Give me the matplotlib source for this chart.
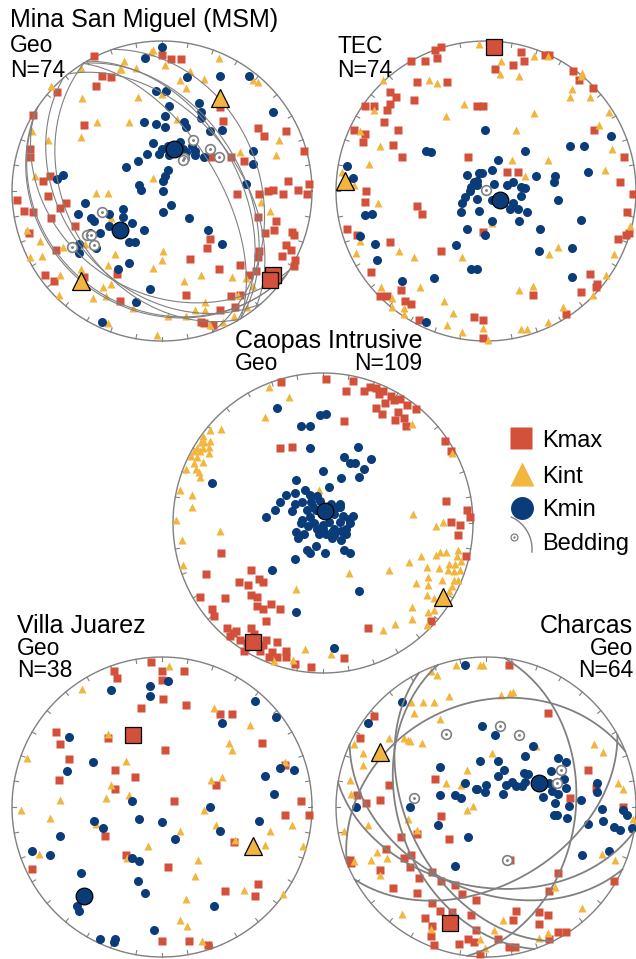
import numpy as np
import matplotlib.pyplot as plt

plt.rcParams['font.family'] = ['Liberation Sans', 'DejaVu Sans']

KMAX_C = '#d3513a'
KINT_C = '#f2b53d'
KMIN_C = '#0b3c7a'
GRAY = '#808080'

# Projected positions on the lower-hemisphere equal-area net
# (x = east, y = north, net radius = 1).

# --- Mina San Miguel (MSM) ---
msm_kmax = [(-0.45, 0.90), (0.00, 0.91), (0.06, 0.88), (0.13, 0.88), (-0.40, 0.77), (-0.34, 0.76),
            (-0.44, 0.70), (-0.70, 0.66), (-0.86, 0.51), (-0.52, 0.44), (0.39, 0.56), (0.41, 0.47),
            (0.64, 0.42), (0.68, 0.37), (0.83, 0.40), (0.95, 0.27), (-0.88, 0.28), (-0.88, 0.23),
            (0.46, 0.23), (0.55, 0.20), (0.33, 0.23), (-0.79, 0.07), (-0.75, 0.10), (0.84, 0.07),
            (0.98, 0.05), (-0.97, -0.06), (-0.76, -0.03), (0.50, -0.02), (0.65, -0.02), (0.71, 0.00),
            (0.74, 0.01), (0.81, -0.02), (0.91, 0.01), (0.97, -0.02), (-0.64, -0.08), (-0.68, -0.11),
            (-0.92, -0.13), (-0.86, -0.14), (-0.74, -0.18), (0.64, -0.17), (0.76, -0.20), (-0.58, -0.23),
            (-0.89, -0.28), (0.69, -0.28), (0.75, -0.26), (0.87, -0.27), (0.88, -0.29), (0.32, -0.32),
            (0.30, -0.38), (-0.71, -0.39), (0.65, -0.40), (0.83, -0.36), (0.86, -0.39), (0.80, -0.43),
            (0.89, -0.46), (0.19, -0.45), (0.64, -0.44), (0.52, -0.49), (0.38, -0.52), (0.63, -0.53),
            (0.88, -0.50), (0.58, -0.56), (-0.78, -0.56), (-0.30, -0.55), (-0.72, -0.60), (-0.52, -0.57),
            (0.16, -0.69), (0.46, -0.70), (0.52, -0.69), (-0.28, -0.73), (0.49, -0.77), (0.39, -0.79),
            (0.26, -0.87), (0.28, -0.88), (0.34, -0.89)]
msm_kint = [(-0.06, 0.94), (-0.07, 0.93), (-0.25, 0.87), (0.38, 0.89), (-0.54, 0.82), (-0.28, 0.81),
            (-0.27, 0.81), (-0.17, 0.82), (0.02, 0.84), (0.19, 0.80), (0.28, 0.75), (0.12, 0.74),
            (0.61, 0.74), (0.64, 0.73), (-0.74, 0.70), (0.03, 0.69), (0.16, 0.69), (0.00, 0.65),
            (-0.16, 0.63), (-0.53, 0.62), (-0.43, 0.46), (-0.22, 0.46), (0.10, 0.48), (-0.87, 0.40),
            (-0.54, 0.36), (-0.76, 0.34), (0.78, 0.34), (0.52, 0.26), (0.76, 0.24), (-0.85, 0.10),
            (-0.06, 0.09), (-0.44, -0.01), (-0.36, -0.01), (0.66, -0.07), (0.72, -0.13), (-0.90, -0.26),
            (-0.81, -0.33), (-0.51, -0.35), (-0.34, -0.18), (-0.66, -0.37), (-0.80, -0.43), (-0.88, -0.44),
            (-0.31, -0.42), (0.01, -0.40), (0.00, -0.46), (-0.36, -0.49), (-0.06, -0.51), (-0.54, -0.52),
            (-0.68, -0.56), (0.26, -0.56), (0.47, -0.57), (0.15, -0.60), (0.56, -0.58), (-0.34, -0.62),
            (-0.39, -0.64), (-0.37, -0.70), (-0.69, -0.69), (-0.46, -0.71), (0.51, -0.69), (0.29, -0.74),
            (-0.19, -0.78), (0.04, -0.83), (0.16, -0.83), (0.22, -0.79), (0.29, -0.79), (0.41, -0.87),
            (0.48, -0.83), (-0.36, -0.88), (0.32, -0.89), (0.57, -0.77), (0.61, -0.63), (-0.03, -0.96)]
msm_kmin = [(0.00, 0.96), (-0.11, 0.89), (0.17, 0.76), (0.39, 0.77), (0.58, 0.77), (-0.04, 0.67),
            (0.03, 0.67), (0.25, 0.59), (0.05, 0.57), (0.26, 0.53), (0.74, 0.53), (0.02, 0.50),
            (0.26, 0.49), (-0.12, 0.46), (-0.04, 0.45), (0.02, 0.43), (0.15, 0.46), (0.16, 0.43),
            (0.32, 0.40), (0.40, 0.41), (0.12, 0.33), (-0.06, 0.32), (0.00, 0.28), (0.04, 0.30),
            (0.11, 0.30), (0.14, 0.28), (0.20, 0.30), (-0.10, 0.25), (-0.02, 0.25), (0.05, 0.24),
            (0.22, 0.24), (0.28, 0.23), (0.61, 0.27), (0.61, 0.18), (-0.16, 0.20), (-0.24, 0.16),
            (0.04, 0.14), (0.01, 0.07), (0.02, 0.10), (-0.66, 0.11), (-0.70, 0.08), (0.56, 0.05),
            (-0.15, 0.04), (-0.14, 0.01), (0.01, 0.00), (0.06, -0.09), (0.01, -0.14), (0.18, -0.18),
            (-0.51, -0.08), (-0.26, -0.12), (-0.56, -0.15), (-0.47, -0.18), (-0.45, -0.20), (-0.26, -0.17),
            (-0.35, -0.23), (-0.20, -0.21), (-0.12, -0.26), (-0.41, -0.28), (0.31, -0.26), (-0.22, -0.34),
            (-0.18, -0.34), (0.40, -0.35), (-0.55, -0.35), (-0.44, -0.38), (-0.55, -0.41), (-0.22, -0.48),
            (-0.29, -0.52), (-0.08, -0.65), (-0.17, -0.74), (-0.40, -0.87), (0.09, 0.26), (0.16, 0.26),
            (0.22, 0.27), (-0.48, -0.28), (-0.35, -0.15)]
msm_bedding = [(0.21, 0.34), (0.32, 0.28), (0.38, 0.23), (0.15, 0.22), (0.14, 0.21),
               (-0.40, -0.14), (-0.50, -0.29), (-0.47, -0.29), (-0.45, -0.36), (-0.60, -0.37)]
msm_mean_kmax = [(0.74, -0.56), (0.72, -0.59)]
msm_mean_kint = [(0.39, 0.62), (-0.54, -0.60)]
msm_mean_kmin = [(0.08, 0.28), (-0.28, -0.26)]

# --- TEC ---
tec_kmax = [(-0.34, 0.94), (-0.30, 0.96), (-0.33, 0.89), (-0.50, 0.87), (-0.41, 0.87), (0.23, 0.93),
            (0.18, 0.84), (0.25, 0.87), (0.06, 0.81), (0.39, 0.91), (0.42, 0.91), (0.58, 0.80),
            (0.62, 0.74), (0.71, 0.69), (-0.46, 0.73), (-0.26, 0.73), (-0.64, 0.66), (-0.60, 0.63),
            (-0.48, 0.61), (-0.81, 0.57), (-0.75, 0.57), (-0.64, 0.58), (-0.66, 0.54), (-0.06, 0.57),
            (-0.02, 0.57), (-0.68, 0.46), (-0.88, 0.41), (-0.81, 0.38), (-0.59, 0.41), (-0.82, 0.33),
            (-0.62, 0.31), (0.72, 0.41), (-0.56, 0.23), (-0.12, 0.23), (0.92, 0.23), (0.14, 0.13),
            (0.21, 0.13), (0.89, 0.06), (0.98, -0.02), (-0.80, 0.00), (-0.81, -0.07), (-0.46, -0.10),
            (-0.43, -0.15), (0.94, -0.14), (-0.93, -0.25), (-0.86, -0.29), (-0.02, -0.27), (-0.64, -0.34),
            (0.88, -0.32), (0.93, -0.29), (0.95, -0.28), (-0.30, -0.40), (-0.77, -0.54), (0.69, -0.55),
            (0.74, -0.62), (0.73, -0.64), (-0.57, -0.66), (0.63, -0.67), (0.31, -0.69), (-0.71, -0.70),
            (-0.66, -0.70), (-0.54, -0.73), (-0.50, -0.75), (0.53, -0.82), (-0.08, -0.84), (-0.02, -0.86),
            (-0.45, -0.86), (-0.02, -0.98)]
tec_kint = [(-0.05, 0.98), (0.10, 0.87), (0.09, 0.78), (0.22, 0.77), (0.32, 0.90), (0.41, 0.90),
            (0.64, 0.79), (0.63, 0.77), (0.57, 0.68), (0.56, 0.63), (0.69, 0.63), (-0.69, 0.74),
            (-0.38, 0.74), (-0.33, 0.72), (-0.75, 0.54), (-0.15, 0.58), (-0.27, 0.50), (0.32, 0.52),
            (0.82, 0.53), (0.20, 0.41), (0.75, 0.44), (-0.84, 0.40), (-0.71, 0.30), (0.84, 0.28),
            (-0.78, 0.18), (0.17, 0.21), (0.41, 0.21), (0.79, 0.14), (0.26, 0.10), (-0.96, 0.13),
            (-0.88, 0.04), (-0.72, -0.08), (0.04, -0.21), (-0.84, -0.33), (-0.87, -0.41), (-0.58, -0.40),
            (-0.48, -0.44), (-0.16, -0.44), (0.48, -0.37), (0.42, -0.42), (0.85, -0.42), (0.96, -0.23),
            (0.80, -0.56), (-0.70, -0.64), (-0.44, -0.64), (0.22, -0.66), (0.31, -0.63), (0.71, -0.69),
            (-0.63, -0.71), (-0.63, -0.77), (-0.55, -0.82), (-0.55, -0.78), (-0.28, -0.73), (-0.22, -0.81),
            (0.51, -0.77), (0.41, -0.87), (-0.26, -0.89), (-0.16, -0.94), (-0.02, -0.91), (0.01, -0.99),
            (0.23, -0.92), (0.27, -0.92)]
tec_kmin = [(-0.01, 0.41), (-0.40, 0.27), (-0.37, 0.26), (0.26, 0.27), (0.56, 0.30), (0.65, 0.30),
            (0.83, 0.37), (0.08, 0.21), (-0.93, 0.17), (-0.89, 0.09), (-0.13, 0.11), (-0.05, 0.12),
            (-0.03, 0.12), (0.04, 0.14), (0.33, 0.10), (0.46, 0.10), (0.45, 0.06), (0.68, 0.13),
            (-0.08, 0.06), (-0.06, 0.04), (0.05, 0.05), (0.14, 0.04), (0.18, 0.06), (0.23, 0.03),
            (0.26, 0.02), (-0.11, 0.00), (-0.14, -0.04), (-0.06, -0.05), (0.04, -0.06), (0.18, -0.08),
            (0.23, -0.03), (0.16, -0.12), (0.21, -0.12), (0.27, -0.14), (0.48, -0.06), (-0.16, -0.08),
            (-0.17, -0.14), (-0.05, -0.13), (-0.81, -0.16), (-0.76, -0.15), (0.04, -0.20), (0.22, -0.20),
            (0.63, -0.19), (-0.13, -0.25), (0.36, -0.25), (-0.01, -0.29), (-0.84, -0.30), (-0.74, -0.35),
            (-0.20, -0.36), (0.35, -0.40), (0.57, -0.38), (-0.73, -0.46), (-0.10, -0.52), (-0.06, -0.52),
            (-0.35, -0.58), (0.57, -0.57), (-0.56, -0.60), (-0.40, -0.87), (-0.10, 0.03), (-0.06, 0.07)]
tec_bedding = [(0.00, 0.01)]
tec_mean_kmax = [(0.05, 0.96)]
tec_mean_kint = [(-0.94, 0.07)]
tec_mean_kmin = [(0.09, -0.06)]

# --- Caopas Intrusive ---
cao_kmax = [(-0.28, 0.94), (0.02, 0.96), (0.20, 0.95), (0.15, 0.88), (0.27, 0.88), (0.31, 0.91),
            (0.35, 0.90), (0.37, 0.86), (0.40, 0.88), (0.45, 0.85), (0.51, 0.83), (0.56, 0.79),
            (0.62, 0.76), (0.35, 0.77), (0.41, 0.80), (0.39, 0.73), (0.50, 0.74), (0.48, 0.69),
            (0.54, 0.70), (0.55, 0.65), (0.14, 0.68), (0.47, 0.82), (0.81, 0.55), (0.85, 0.48),
            (-0.29, 0.50), (-0.21, 0.51), (0.82, 0.15), (0.96, 0.09), (0.98, 0.04), (0.85, 0.01),
            (0.91, -0.01), (0.90, -0.08), (0.95, -0.22), (-0.68, -0.20), (-0.78, -0.34), (-0.48, -0.31),
            (-0.56, -0.39), (-0.50, -0.41), (-0.43, -0.37), (-0.40, -0.39), (-0.82, -0.49), (-0.65, -0.50),
            (-0.48, -0.48), (-0.44, -0.49), (-0.44, -0.55), (-0.35, -0.54), (-0.29, -0.57), (-0.74, -0.57),
            (-0.73, -0.62), (-0.38, -0.65), (-0.40, -0.57), (-0.64, -0.70), (-0.58, -0.72), (-0.62, -0.75),
            (-0.48, -0.70), (-0.51, -0.80), (-0.44, -0.80), (-0.40, -0.81), (-0.38, -0.78), (-0.42, -0.85),
            (-0.34, -0.86), (-0.31, -0.79), (-0.25, -0.85), (-0.25, -0.89), (-0.31, -0.89), (-0.36, -0.89),
            (-0.19, -0.94), (-0.08, -0.96), (0.14, -0.90), (0.30, -0.70), (0.72, -0.65), (-0.55, -0.78),
            (-0.53, -0.85), (-0.60, -0.73), (-0.46, -0.74)]
cao_kint = [(-0.36, 0.91), (-0.23, 0.84), (-0.39, 0.71), (-0.75, 0.62), (-0.68, 0.63), (-0.80, 0.58),
            (-0.81, 0.54), (-0.79, 0.54), (-0.75, 0.55), (-0.84, 0.50), (-0.80, 0.50), (-0.76, 0.51),
            (-0.86, 0.48), (-0.82, 0.48), (-0.88, 0.45), (-0.76, 0.47), (-0.84, 0.44), (-0.86, 0.40),
            (-0.80, 0.41), (-0.91, 0.36), (-0.85, 0.36), (-0.83, 0.34), (-0.82, 0.31), (-0.95, 0.22),
            (-0.87, 0.19), (-0.87, 0.11), (-0.98, 0.02), (-0.69, -0.05), (-0.94, -0.11), (-0.93, -0.28),
            (-0.03, 0.22), (0.59, 0.66), (0.86, 0.47), (0.60, 0.06), (0.75, -0.02), (0.80, 0.01),
            (0.17, -0.33), (0.44, -0.31), (0.57, -0.26), (0.65, -0.22), (0.75, -0.21), (0.78, -0.19),
            (0.82, -0.19), (0.89, -0.22), (0.92, -0.25), (0.88, -0.27), (0.69, -0.29), (0.77, -0.30),
            (0.83, -0.31), (0.87, -0.32), (0.91, -0.31), (0.62, -0.40), (0.70, -0.41), (0.79, -0.38),
            (0.87, -0.38), (0.90, -0.38), (0.86, -0.42), (0.84, -0.45), (0.69, -0.48), (0.74, -0.50),
            (0.59, -0.56), (0.70, -0.59), (0.74, -0.58), (0.59, -0.64), (0.69, -0.68), (0.48, -0.67),
            (0.40, -0.71), (-0.18, -0.44), (-0.12, -0.84), (0.05, -0.87), (-0.20, -0.91), (-0.33, -0.92),
            (0.84, -0.27), (0.90, -0.18), (0.70, -0.36)]
cao_kmin = [(-0.31, 0.77), (-0.02, 0.72), (0.02, 0.73), (-0.15, 0.65), (-0.09, 0.65), (-0.09, 0.50),
            (0.23, 0.51), (0.14, 0.44), (0.18, 0.40), (0.21, 0.40), (0.32, 0.43), (0.27, 0.36),
            (0.24, 0.31), (0.12, 0.30), (0.00, 0.35), (-0.74, 0.27), (-0.18, 0.29), (0.04, 0.24),
            (-0.25, 0.19), (-0.19, 0.20), (-0.12, 0.22), (-0.09, 0.19), (-0.04, 0.18), (-0.29, 0.14),
            (-0.19, 0.13), (-0.14, 0.14), (-0.08, 0.14), (-0.02, 0.15), (0.05, 0.13), (0.11, 0.13),
            (-0.32, 0.09), (-0.21, 0.08), (-0.11, 0.09), (-0.38, 0.04), (-0.09, 0.04), (0.07, 0.06),
            (0.13, 0.05), (0.17, 0.03), (0.20, 0.05), (-0.14, 0.02), (-0.06, 0.00), (0.04, 0.01),
            (0.11, 0.01), (0.18, 0.00), (-0.10, -0.02), (-0.04, -0.04), (0.07, -0.04), (0.12, -0.05),
            (-0.18, -0.06), (-0.13, -0.07), (-0.03, -0.07), (0.02, -0.07), (0.07, -0.08), (0.15, -0.07),
            (-0.17, -0.10), (0.06, -0.10), (0.12, -0.11), (-0.05, -0.15), (-0.11, -0.18), (-0.09, -0.20),
            (0.01, -0.20), (0.14, -0.18), (0.18, -0.20), (-0.19, -0.24), (-0.34, -0.31), (0.24, -0.45),
            (-0.18, -0.59), (0.07, -0.83), (-0.07, 0.11), (-0.05, 0.09), (0.09, 0.11), (0.11, 0.11),
            (-0.15, 0.00), (0.00, -0.01), (0.00, -0.04), (0.06, -0.06), (0.15, -0.04)]
cao_mean_kmax = [(-0.47, -0.79)]
cao_mean_kint = [(0.80, -0.49)]
cao_mean_kmin = [(0.01, 0.08)]

# --- Villa Juarez ---
vj_kmax = [(-0.32, 0.91), (-0.30, 0.86), (-0.07, 0.97), (0.00, 0.91), (0.00, 0.85), (0.15, 0.91),
           (0.01, 0.72), (-0.14, 0.66), (0.16, 0.68), (0.39, 0.62), (0.47, 0.62), (-0.71, 0.50),
           (-0.68, 0.42), (-0.36, 0.46), (0.02, 0.38), (0.67, 0.43), (-0.62, 0.32), (-0.69, 0.18),
           (-0.31, 0.25), (-0.18, 0.20), (-0.31, 0.12), (0.36, 0.15), (0.82, 0.28), (0.08, 0.04),
           (0.93, 0.04), (0.82, -0.05), (0.98, -0.05), (-0.38, -0.19), (0.48, -0.23), (-0.24, -0.32),
           (-0.87, -0.41), (0.04, -0.40), (0.64, -0.51), (0.42, -0.56), (0.62, -0.59), (0.00, -0.89),
           (0.18, -0.89), (0.31, -0.92)]
vj_kint = [(0.05, 0.94), (-0.53, 0.79), (0.35, 0.66), (0.59, 0.55), (-0.36, 0.49), (0.45, 0.43),
           (0.47, 0.38), (-0.90, 0.33), (-0.24, 0.31), (0.82, 0.30), (-0.34, 0.15), (0.33, 0.18),
           (0.40, 0.20), (-0.22, 0.08), (-0.68, 0.05), (-0.37, 0.06), (-0.94, -0.02), (0.28, -0.02),
           (-0.75, -0.07), (-0.44, -0.11), (0.36, -0.12), (0.87, -0.12), (0.12, -0.16), (0.72, -0.16),
           (0.49, -0.22), (0.69, -0.25), (0.94, -0.26), (-0.09, -0.26), (-0.82, -0.31), (-0.23, -0.34),
           (0.24, -0.35), (0.22, -0.46), (0.55, -0.55), (0.81, -0.58), (0.16, -0.61), (0.12, -0.75),
           (0.17, -0.79), (0.27, -0.89)]
vj_kmin = [(-0.08, 0.81), (0.04, 0.84), (-0.34, 0.78), (-0.08, 0.74), (0.62, 0.71), (0.76, 0.60),
           (0.40, 0.56), (-0.62, 0.47), (-0.46, 0.30), (-0.63, 0.24), (0.69, 0.21), (0.79, 0.26),
           (0.88, 0.25), (0.75, 0.09), (-0.20, 0.04), (0.32, 0.00), (-0.45, -0.09), (-0.39, -0.14),
           (-0.15, -0.08), (0.00, -0.10), (0.39, -0.16), (0.65, -0.09), (0.09, -0.21), (-0.68, -0.19),
           (-0.87, -0.29), (-0.75, -0.32), (-0.20, -0.34), (-0.15, -0.36), (-0.54, -0.44), (-0.16, -0.49),
           (-0.11, -0.57), (-0.57, -0.66), (-0.55, -0.69), (0.35, -0.66), (-0.05, -0.82), (-0.41, -0.88),
           (-0.32, -0.90), (-0.31, -0.88)]
vj_mean_kmax = [(-0.19, 0.48)]
vj_mean_kint = [(0.61, -0.26)]
vj_mean_kmin = [(-0.52, -0.59)]

# --- Charcas ---
cha_kmax = [(0.15, 0.95), (0.41, 0.63), (-0.75, 0.61), (-0.84, 0.46), (0.68, 0.25), (-0.34, 0.19),
            (-0.65, 0.15), (-0.86, 0.08), (-0.80, 0.03), (-0.71, 0.05), (0.73, 0.13), (0.56, 0.06),
            (0.91, 0.00), (-0.30, -0.06), (-0.46, -0.18), (-0.57, -0.20), (-0.25, -0.21), (-0.67, -0.28),
            (-0.55, -0.34), (-0.50, -0.32), (-0.91, -0.35), (-0.90, -0.37), (0.16, -0.35), (-0.71, -0.42),
            (-0.51, -0.40), (-0.36, -0.43), (0.48, -0.44), (0.85, -0.49), (-0.45, -0.47), (-0.30, -0.49),
            (-0.21, -0.52), (-0.62, -0.54), (-0.46, -0.57), (-0.16, -0.58), (0.42, -0.56), (-0.36, -0.64),
            (-0.07, -0.62), (-0.31, -0.69), (-0.23, -0.70), (0.20, -0.69), (-0.41, -0.74), (-0.10, -0.72),
            (0.18, -0.75), (0.35, -0.70), (0.41, -0.72), (-0.36, -0.79), (0.35, -0.78), (-0.07, -0.82),
            (-0.37, -0.86), (0.08, -0.88), (-0.18, -0.91), (-0.12, -0.88), (-0.08, -0.90), (-0.35, -0.92),
            (0.15, -0.93), (0.19, -0.93), (-0.04, -0.98), (0.42, -0.88), (0.48, -0.83), (0.53, -0.83)]
cha_kint = [(-0.37, 0.91), (-0.33, 0.88), (-0.20, 0.95), (-0.04, 0.95), (-0.02, 0.95), (-0.50, 0.70),
            (-0.42, 0.70), (-0.35, 0.70), (-0.25, 0.74), (-0.48, 0.63), (-0.31, 0.59), (0.10, 0.75),
            (0.16, 0.76), (0.18, 0.77), (-0.55, 0.46), (-0.52, 0.45), (-0.51, 0.44), (-0.43, 0.43),
            (-0.65, 0.46), (-0.88, 0.42), (-0.82, 0.36), (-0.82, 0.28), (0.04, 0.36), (-0.13, 0.25),
            (-0.27, 0.16), (-0.17, 0.15), (0.33, 0.41), (0.72, 0.42), (0.78, 0.37), (-0.91, 0.18),
            (-0.90, 0.09), (-0.09, 0.01), (-0.13, -0.02), (0.91, 0.12), (0.88, 0.16), (0.98, -0.08),
            (-0.79, -0.12), (-0.52, -0.08), (-0.46, -0.15), (-0.95, -0.16), (-0.73, -0.30), (-0.77, -0.35),
            (-0.66, -0.34), (-0.88, -0.36), (-0.71, -0.45), (0.77, -0.31), (0.86, -0.35), (0.46, -0.53),
            (0.64, -0.67), (-0.56, -0.71), (0.11, -0.75), (0.05, -0.82), (-0.04, -0.88), (-0.01, -0.94),
            (0.35, -0.87), (0.41, -0.84), (-0.37, -0.81)]
cha_kmin = [(-0.14, 0.95), (-0.56, 0.70), (-0.79, 0.56), (-0.03, 0.54), (0.06, 0.48), (0.31, 0.41),
            (0.26, 0.34), (0.48, 0.33), (0.53, 0.30), (-0.04, 0.31), (0.08, 0.31), (-0.31, 0.27),
            (0.12, 0.25), (0.08, 0.21), (0.25, 0.23), (0.28, 0.22), (0.43, 0.24), (-0.14, 0.16),
            (-0.07, 0.12), (0.00, 0.15), (0.13, 0.15), (0.17, 0.17), (0.20, 0.14), (0.24, 0.14),
            (0.26, 0.17), (0.52, 0.19), (0.53, 0.13), (-0.31, 0.08), (-0.21, 0.08), (-0.17, 0.06),
            (-0.01, 0.10), (0.11, 0.09), (0.38, 0.07), (0.44, 0.11), (0.48, 0.09), (0.46, 0.03),
            (0.55, 0.01), (0.63, 0.05), (0.74, 0.16), (0.74, 0.10), (-0.87, 0.00), (-0.51, 0.00),
            (0.45, -0.05), (0.47, -0.05), (0.54, -0.07), (0.77, -0.01), (0.78, -0.09), (0.68, -0.11),
            (0.91, -0.02), (0.94, -0.05), (0.85, -0.13), (0.89, -0.15), (0.97, -0.14), (-0.32, -0.12),
            (-0.12, -0.20), (0.64, -0.32), (0.82, -0.29), (-0.21, -0.39), (0.42, 0.16), (-0.06, 0.12)]
cha_bedding = [(0.09, 0.54), (0.22, 0.48), (-0.27, 0.49), (0.50, 0.25), (0.47, 0.16),
               (-0.48, 0.06), (0.14, -0.35)]
cha_mean_kmax = [(-0.24, -0.77)]
cha_mean_kint = [(-0.71, 0.37)]
cha_mean_kmin = [(0.35, 0.16)]

W, H = 636, 959
fig = plt.figure(figsize=(W / 100, H / 100), dpi=100)


def px(x, y):
    # figure pixel (from top-left) -> figure fraction
    return x / W, 1 - y / H


def net_axes(cx, cy, r=150, pad=1.1):
    s = r * pad
    ax = fig.add_axes([(cx - s) / W, 1 - (cy + s) / H, 2 * s / W, 2 * s / H])
    ax.set_xlim(-pad, pad)
    ax.set_ylim(-pad, pad)
    ax.axis('off')
    t = np.linspace(0, 2 * np.pi, 721)
    ax.plot(np.cos(t), np.sin(t), color=GRAY, lw=1.0, zorder=1)
    for a in np.radians(np.arange(0, 360, 10)):
        ax.plot([np.sin(a), 0.972 * np.sin(a)], [np.cos(a), 0.972 * np.cos(a)],
                color=GRAY, lw=0.8, zorder=1)
    return ax


def great_circle(pxy):
    # plane whose pole projects at pxy (equal-area, lower hemisphere)
    x, y = pxy
    rr = np.hypot(x, y)
    d = 1 - rr ** 2
    h = np.sqrt(max(0.0, 1 - d ** 2))
    pole = np.array([h * y / rr, h * x / rr, d]) if rr > 0 else np.array([0, 0, 1.0])
    s = np.cross(pole, [0, 0, 1.0])
    if np.linalg.norm(s) < 1e-9:
        s = np.array([1.0, 0, 0])
    s /= np.linalg.norm(s)
    w = np.cross(pole, s)
    if w[2] < 0:
        w = -w
    th = np.linspace(0, np.pi, 241)
    v = np.outer(np.cos(th), s) + np.outer(np.sin(th), w)
    rv = np.sqrt(np.clip(1 - v[:, 2], 0, None))
    hv = np.hypot(v[:, 0], v[:, 1])
    hv[hv == 0] = 1
    return rv * v[:, 1] / hv, rv * v[:, 0] / hv


def plot_net(ax, kmax, kint, kmin, means, bedding=(), gc_lw=0.8, draw_gc=True):
    for pts, mk, col, ms in [(kmax, 's', KMAX_C, 5.5), (kint, '^', KINT_C, 6.2),
                             (kmin, 'o', KMIN_C, 6.5)]:
        a = np.array(pts)
        ax.plot(a[:, 0], a[:, 1], mk, color=col, ms=ms, mec='none', zorder=2)
    if draw_gc:
        for b in bedding:
            gx, gy = great_circle(b)
            ax.plot(gx, gy, color=GRAY, lw=gc_lw, zorder=3)
    if len(bedding):
        b = np.array(bedding)
        ax.plot(b[:, 0], b[:, 1], 'o', ms=7, mfc='white', mec=GRAY, mew=1.2, zorder=4)
        ax.plot(b[:, 0], b[:, 1], '.', ms=2.2, color=GRAY, zorder=5)
    mk_kmax, mk_kint, mk_kmin = means
    for pts, mk, col, ms in [(mk_kmax, 's', KMAX_C, 11.5), (mk_kint, '^', KINT_C, 12.5),
                             (mk_kmin, 'o', KMIN_C, 12.0)]:
        a = np.array(pts)
        ax.plot(a[:, 0], a[:, 1], mk, color=col, ms=ms, mec='black', mew=0.9, zorder=6)


ax1 = net_axes(162, 191)
plot_net(ax1, msm_kmax, msm_kint, msm_kmin, (msm_mean_kmax, msm_mean_kint, msm_mean_kmin),
         msm_bedding, gc_lw=0.8)
ax2 = net_axes(486, 191)
plot_net(ax2, tec_kmax, tec_kint, tec_kmin, (tec_mean_kmax, tec_mean_kint, tec_mean_kmin),
         tec_bedding, draw_gc=False)
ax3 = net_axes(323, 523)
plot_net(ax3, cao_kmax, cao_kint, cao_kmin, (cao_mean_kmax, cao_mean_kint, cao_mean_kmin))
ax4 = net_axes(162, 807)
plot_net(ax4, vj_kmax, vj_kint, vj_kmin, (vj_mean_kmax, vj_mean_kint, vj_mean_kmin))
ax5 = net_axes(486, 807)
plot_net(ax5, cha_kmax, cha_kint, cha_kmin, (cha_mean_kmax, cha_mean_kint, cha_mean_kmin),
         cha_bedding, gc_lw=1.3)


def label(x, y, s, size=16.5, ha='left'):
    fig.text(*px(x, y), s, fontsize=size, ha=ha, va='baseline', color='black')


label(10, 27, 'Mina San Miguel (MSM)', 18)
label(10, 52, 'Geo')
label(10, 77, 'N=74')
label(337, 53, 'TEC')
label(337, 77, 'N=74')
label(235, 348, 'Caopas Intrusive', 18)
label(235, 370, 'Geo')
label(422, 370, 'N=109', ha='right')
label(17, 633, 'Villa Juarez', 18)
label(17, 655, 'Geo')
label(17, 677, 'N=38')
label(633, 633, 'Charcas', 18, ha='right')
label(633, 655, 'Geo', ha='right')
label(633, 677, 'N=64', ha='right')

# legend, drawn in a small axes laid out in figure pixels
lg = fig.add_axes([490 / W, 1 - 570 / H, 146 / W, 160 / H])
lg.set_xlim(490, 636)
lg.set_ylim(570, 410)
lg.axis('off')
lg.plot([521], [438], 's', color=KMAX_C, ms=16, mec='none')
lg.plot([522], [474], '^', color=KINT_C, ms=17, mec='none')
lg.plot([521.5], [508], 'o', color=KMIN_C, ms=16.5, mec='none')
t = np.radians(np.linspace(-66, 5, 60))
lg.plot(497 + 35 * np.cos(t), 549 + 35 * np.sin(t), color=GRAY, lw=1.0)
lg.plot([514], [537], 'o', ms=5, mfc='white', mec=GRAY, mew=0.9)
lg.plot([514], [537], '.', ms=1.5, color=GRAY)
for yb, s in [(447, 'Kmax'), (483, 'Kint'), (516, 'Kmin'), (550, 'Bedding')]:
    label(542, yb, s, 17)

fig.savefig('out.png', dpi=100)
